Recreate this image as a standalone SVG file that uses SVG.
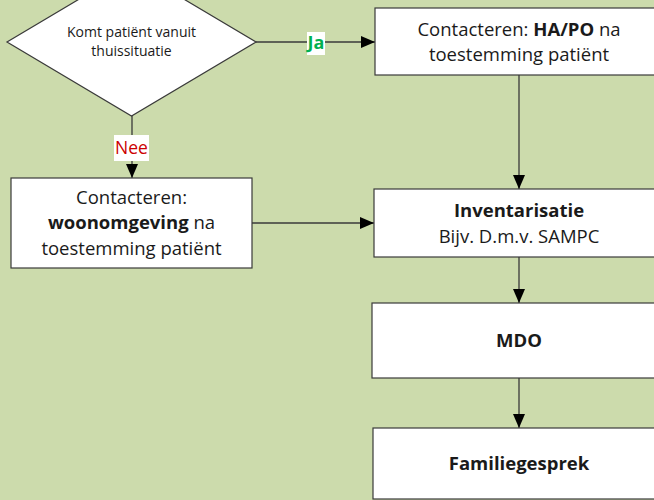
<svg xmlns="http://www.w3.org/2000/svg" width="654" height="500" viewBox="0 0 654 500">
<defs>
<style>
.box{fill:#ffffff;stroke:#3a3a3a;stroke-width:1.2}
.t{font-family:"Open Sans","Liberation Sans",sans-serif;fill:#1a1a1a;text-anchor:middle}
.m{font-size:18.5px}
.s{font-size:14px}
.b{font-weight:bold}
.ln{stroke:#3a3a3a;stroke-width:1.3;fill:none}
</style>
<marker id="ah" viewBox="0 0 14 12" refX="14" refY="6" markerWidth="14" markerHeight="12" markerUnits="userSpaceOnUse" orient="auto">
<path d="M0,0 L14,6 L0,12 Z" fill="#000"/>
</marker>
</defs>
<rect x="0" y="0" width="654" height="500" fill="#CCDBAC"/>
<g id="connectors">
<line class="ln" x1="256" y1="42" x2="375" y2="42" marker-end="url(#ah)"/>
<line class="ln" x1="132" y1="116" x2="132" y2="178" marker-end="url(#ah)"/>
<line class="ln" x1="519" y1="75" x2="519" y2="189" marker-end="url(#ah)"/>
<line class="ln" x1="252" y1="223" x2="374" y2="223" marker-end="url(#ah)"/>
<line class="ln" x1="519" y1="257" x2="519" y2="303" marker-end="url(#ah)"/>
<line class="ln" x1="519" y1="378" x2="519" y2="428" marker-end="url(#ah)"/>
<g id="label-ja">
<rect x="307" y="32" width="18" height="23" fill="#ffffff"/>
<text class="t b" x="316" y="49" font-size="18" style="fill:#00B050">Ja</text>
</g>
<g id="label-nee">
<rect x="114" y="135" width="35" height="26" fill="#ffffff"/>
<text class="t" x="131.5" y="154" font-size="17.5" style="fill:#CC0000">Nee</text>
</g>
</g>
<g id="decision">
<polygon class="box" points="131.5,-32 256,42 131.5,116 7,42"/>
<text class="t s" x="131.5" y="37">Komt patiënt vanuit</text>
<text class="t s" x="131.5" y="56">thuissituatie</text>
</g>
<g id="contact-hapo">
<rect class="box" x="375" y="8" width="290" height="67"/>
<text class="t m" x="519" y="36">Contacteren: <tspan class="b">HA/PO</tspan> na</text>
<text class="t m" x="519" y="61">toestemming patiënt</text>
</g>
<g id="contact-woon">
<rect class="box" x="11" y="178" width="241" height="90"/>
<text class="t m" x="131.5" y="204">Contacteren:</text>
<text class="t m" x="131.5" y="229"><tspan class="b">woonomgeving</tspan> na</text>
<text class="t m" x="131.5" y="255">toestemming patiënt</text>
</g>
<g id="inventarisatie">
<rect class="box" x="374" y="189" width="291" height="68"/>
<text class="t m b" x="519" y="217">Inventarisatie</text>
<text class="t m" x="519" y="243">Bijv. D.m.v. SAMPC</text>
</g>
<g id="mdo">
<rect class="box" x="372" y="303" width="293" height="75"/>
<text class="t m b" x="519" y="347">MDO</text>
</g>
<g id="familiegesprek">
<rect class="box" x="373" y="428" width="292" height="71"/>
<text class="t m b" x="519" y="470">Familiegesprek</text>
</g>
</svg>
